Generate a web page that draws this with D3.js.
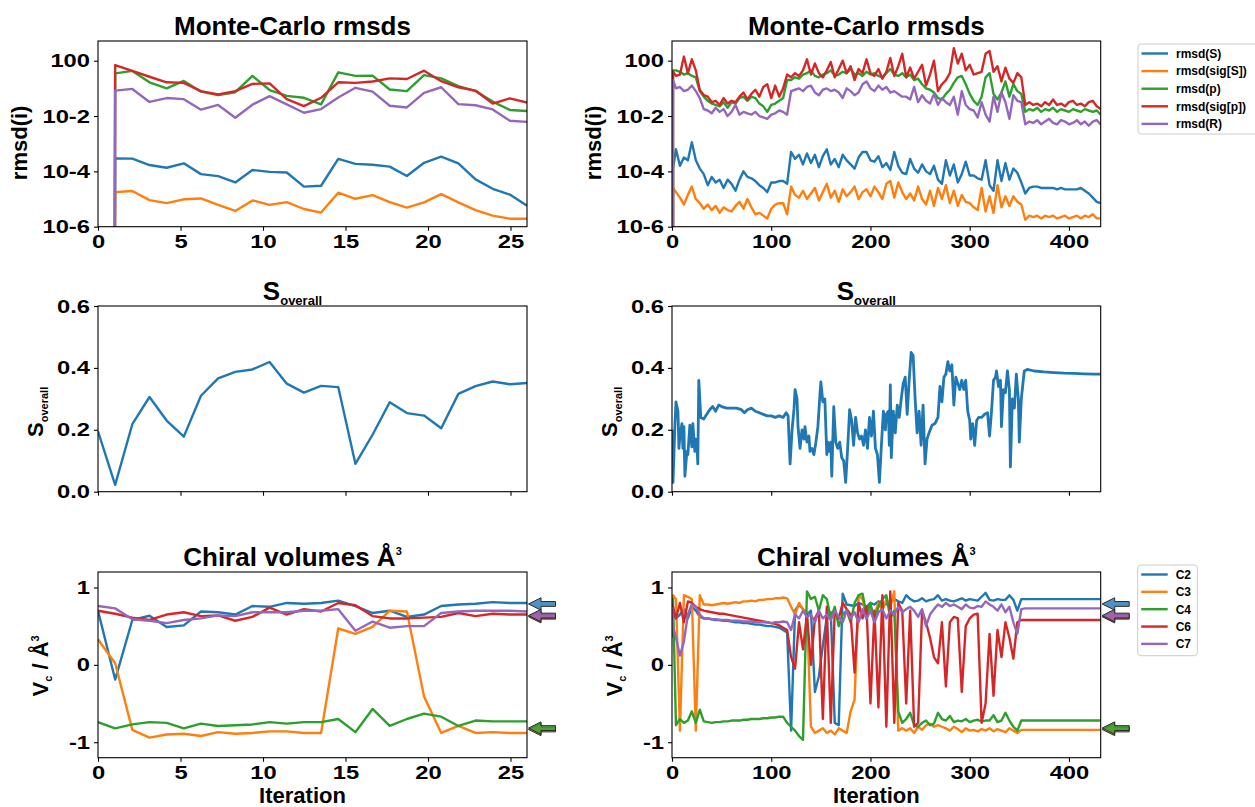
<!DOCTYPE html>
<html>
<head>
<meta charset="utf-8">
<script src="https://cdn.jsdelivr.net/npm/d3@7"></script>
<style>
  body { margin: 0; background: #fff; }
  svg { display: block; font-family: "Liberation Sans", Arial, sans-serif; font-weight: bold; }
</style>
</head>
<body>
<svg id="fig" width="1255" height="807"></svg>
<script>
// ---------------------------------------------------------------------------
// Series metadata
// ---------------------------------------------------------------------------
const rmsdNames = ["rmsd(S)", "rmsd(sig[S])", "rmsd(p)", "rmsd(sig[p])", "rmsd(R)"];
const chiralNames = ["C2", "C3", "C4", "C6", "C7"];
const palette = ["#1f77b4", "#ff7f0e", "#2ca02c", "#d62728", "#9467bd"];

// Target chiral volumes (arrows on the right-hand spine), order C2, C3, C4, C6, C7
const chiralTargets = [0.787, -0.835, -0.817, 0.622, 0.637];

// Axis ticks
const rmsdTickValues = [1, 1e-2, 1e-4, 1e-6];
const rmsdTickLabels = ["100", "10-2", "10-4", "10-6"];
const sTickValues = [0, 0.2, 0.4, 0.6];
const sTickLabels = ["0.0", "0.2", "0.4", "0.6"];
const vTickValues = [-1, 0, 1];
const vTickLabels = ["-1", "0", "1"];
const shortTicks = [0, 5, 10, 15, 20, 25];
const longTicks = [0, 100, 200, 300, 400];

// ---------------------------------------------------------------------------
// Short run (26 iterations)
// ---------------------------------------------------------------------------
const iterShort = [0, 1.04, 2.08, 3.12, 4.16, 5.2, 6.24, 7.28, 8.32, 9.36, 10.4, 11.44, 12.48,
  13.52, 14.56, 15.6, 16.64, 17.68, 18.72, 19.76, 20.8, 21.84, 22.88, 23.92, 24.96, 26];

// log10 of the rmsds; null = rmsd was exactly 0 at the first iteration
const rmsdS_short = [null, -3.53, -3.54, -3.77, -3.87, -3.71, -4.10, -4.17, -4.40, -3.95, -4.02, -4.04, -4.55,
  -4.52, -3.55, -3.73, -3.76, -3.83, -4.17, -3.69, -3.47, -3.71, -4.29, -4.63, -4.84, -5.24];
const rmsdSigS_short = [null, -4.75, -4.71, -5.04, -5.15, -5.01, -4.98, -5.21, -5.43, -5.05, -5.21, -5.11, -5.36,
  -5.49, -4.77, -4.99, -4.86, -5.11, -5.31, -5.12, -4.82, -5.12, -5.40, -5.60, -5.71, -5.71];
const rmsdP_short = [null, -0.46, -0.37, -0.78, -1.00, -0.73, -1.12, -1.24, -1.14, -0.55, -1.06, -1.27, -1.34,
  -1.58, -0.42, -0.55, -0.54, -1.04, -1.10, -0.52, -0.64, -0.92, -1.10, -1.48, -1.78, -1.82];
const rmsdSigP_short = [null, -0.16, -0.37, -0.58, -0.78, -0.80, -1.10, -1.22, -1.10, -0.84, -0.82, -1.39, -1.64,
  -1.34, -0.78, -0.80, -0.75, -0.64, -0.66, -0.36, -0.74, -0.96, -1.08, -1.55, -1.36, -1.51];
const rmsdR_short = [null, -1.08, -1.02, -1.49, -1.35, -1.39, -1.77, -1.60, -2.06, -1.59, -1.28, -1.58, -1.88,
  -1.75, -1.33, -0.98, -1.12, -1.63, -1.69, -1.16, -0.96, -1.57, -1.61, -1.76, -2.17, -2.21];

const sOverall_short = [0.195, 0.022, 0.218, 0.306, 0.23, 0.178, 0.31, 0.366, 0.387, 0.395, 0.419, 0.349, 0.32,
  0.342, 0.338, 0.09, 0.184, 0.289, 0.254, 0.246, 0.205, 0.316, 0.341, 0.356, 0.347, 0.351];

const vC2_short = [0.70, -0.19, 0.58, 0.635, 0.49, 0.51, 0.69, 0.68, 0.65, 0.76, 0.75, 0.80, 0.79,
  0.80, 0.83, 0.76, 0.67, 0.70, 0.62, 0.65, 0.76, 0.78, 0.79, 0.81, 0.80, 0.80];
const vC3_short = [0.33, 0.02, -0.84, -0.94, -0.90, -0.89, -0.92, -0.87, -0.89, -0.88, -0.86, -0.86, -0.88,
  -0.88, 0.47, 0.40, 0.49, 0.70, 0.69, -0.41, -0.88, -0.79, -0.88, -0.87, -0.88, -0.88];
const vC4_short = [-0.74, -0.82, -0.77, -0.74, -0.75, -0.82, -0.76, -0.79, -0.78, -0.77, -0.74, -0.76, -0.74,
  -0.74, -0.70, -0.87, -0.57, -0.79, -0.70, -0.63, -0.67, -0.79, -0.72, -0.73, -0.73, -0.73];
const vC6_short = [0.70, 0.66, 0.61, 0.58, 0.65, 0.68, 0.63, 0.64, 0.57, 0.62, 0.74, 0.65, 0.72,
  0.69, 0.80, 0.77, 0.63, 0.60, 0.60, 0.61, 0.62, 0.67, 0.63, 0.66, 0.65, 0.65];
const vC7_short = [0.76, 0.73, 0.59, 0.57, 0.54, 0.58, 0.60, 0.64, 0.63, 0.68, 0.68, 0.68, 0.70,
  0.70, 0.72, 0.44, 0.56, 0.48, 0.50, 0.50, 0.67, 0.69, 0.70, 0.70, 0.70, 0.69];

// ---------------------------------------------------------------------------
// Long run (432 iterations, sampled)
// ---------------------------------------------------------------------------
const iterLong = [0, 1, 4, 8, 12, 16, 20, 24, 28, 32, 36, 40, 44, 48, 52, 56, 60, 64, 68, 72, 76, 80, 84, 88,
  92, 96, 100, 104, 108, 112, 116, 120, 124, 128, 132, 136, 140, 144, 148, 152, 156, 160, 164, 168, 172, 176,
  180, 184, 188, 192, 196, 200, 204, 208, 212, 216, 220, 224, 228, 232, 236, 240, 244, 248, 252, 256, 260,
  264, 268, 272, 276, 280, 284, 288, 292, 296, 300, 304, 308, 312, 316, 320, 324, 328, 332, 336, 340, 344,
  348, 352, 356, 360, 364, 368, 372, 376, 380, 384, 388, 392, 396, 400, 404, 408, 412, 416, 420, 424, 428, 432];

const rmsdS_long = [null, -3.90, -3.20, -3.80, -3.50, -3.60, -2.95, -3.60, -3.90, -4.10,
  -4.50, -4.20, -4.40, -4.30, -4.60, -4.30, -4.45, -4.70, -4.30, -4.00,
  -4.20, -4.25, -4.35, -4.50, -4.60, -4.75, -4.40, -4.40, -4.35, -4.35,
  -4.45, -3.30, -3.55, -3.40, -3.75, -3.35, -3.70, -3.40, -3.85, -3.45,
  -3.20, -3.75, -3.55, -3.85, -3.40, -3.60, -3.75, -3.90, -3.50, -3.30,
  -3.30, -3.60, -3.65, -3.45, -3.85, -3.70, -3.95, -3.30, -3.80, -4.05,
  -4.10, -3.55, -3.90, -4.05, -3.75, -4.00, -4.10, -3.80, -4.30, -4.45,
  -3.60, -4.15, -3.75, -4.40, -4.10, -3.65, -4.15, -4.15, -4.25, -4.30,
  -3.60, -4.50, -4.70, -3.60, -4.35, -3.70, -4.30, -3.90, -4.05, -4.40,
  -4.80, -4.60, -4.55, -4.55, -4.60, -4.60, -4.60, -4.60, -4.65, -4.60,
  -4.65, -4.65, -4.65, -4.65, -4.60, -4.70, -4.80, -4.95, -5.10, -5.15];
const rmsdSigS_long = [null, -4.60, -4.75, -4.95, -5.20, -4.85, -4.55, -5.00, -5.15, -5.35,
  -5.20, -5.40, -5.25, -5.50, -5.30, -5.40, -5.45, -5.25, -5.10, -5.35,
  -5.00, -5.30, -5.55, -5.50, -5.60, -5.70, -5.35, -5.20, -5.15, -5.15,
  -5.55, -4.55, -4.85, -4.95, -4.70, -5.00, -4.80, -4.60, -5.05, -4.75,
  -4.45, -4.95, -4.70, -5.10, -4.65, -4.90, -4.75, -4.55, -5.00, -4.75,
  -4.65, -4.90, -4.55, -4.75, -5.00, -4.45, -4.35, -4.95, -4.40, -4.75,
  -5.00, -4.80, -5.05, -4.55, -5.00, -5.20, -4.70, -5.25, -4.60, -5.00,
  -4.50, -5.15, -4.70, -5.25, -4.85, -5.10, -5.15, -5.30, -5.40, -4.60,
  -5.45, -4.90, -5.50, -4.50, -5.30, -4.90, -5.25, -4.90, -5.10, -5.20,
  -5.75, -5.60, -5.65, -5.60, -5.70, -5.60, -5.65, -5.60, -5.70, -5.65,
  -5.60, -5.70, -5.65, -5.60, -5.70, -5.60, -5.65, -5.55, -5.70, -5.70];
const rmsdP_long = [null, -0.35, -0.35, -0.40, -0.50, -0.45, -0.55, -0.60, -1.10, -1.30,
  -1.45, -1.55, -1.60, -1.65, -1.50, -1.70, -1.50, -1.55, -1.35, -1.30,
  -1.45, -1.30, -1.35, -1.55, -1.65, -1.85, -1.60, -1.55, -1.45, -1.35,
  -0.70, -0.70, -0.60, -0.65, -0.50, -0.45, -0.35, -0.55, -0.60, -0.50,
  -0.45, -0.35, -0.55, -0.50, -0.40, -0.45, -0.30, -0.50, -0.45, -0.55,
  -0.40, -0.50, -0.45, -0.55, -0.60, -0.45, -0.30, -0.50, -0.55, -0.45,
  -0.60, -0.50, -0.70, -0.65, -0.85, -1.00, -1.05, -1.15, -1.35, -1.40,
  -1.20, -1.05, -0.80, -0.60, -0.55, -0.85, -1.20, -1.45, -1.60, -1.30,
  -0.60, -0.45, -1.20, -1.40, -1.15, -0.75, -1.30, -0.85, -1.10, -1.20,
  -1.85, -1.75, -1.80, -1.70, -1.85, -1.75, -1.80, -1.70, -1.85, -1.75,
  -1.80, -1.85, -1.75, -1.80, -1.85, -1.75, -1.80, -1.85, -1.80, -1.95];
const rmsdSigP_long = [null, -0.40, -0.55, -0.50, 0.15, -0.45, 0.05, -0.35, -1.06, -1.24,
  -1.30, -1.50, -1.45, -1.60, -1.35, -1.55, -1.45, -1.50, -1.30, -1.15,
  -1.40, -1.20, -1.05, -1.30, -0.95, -0.85, -1.35, -0.90, -1.30, -1.00,
  -0.50, -0.60, -0.45, -0.55, -0.35, 0.05, -0.50, -0.10, -0.45, -0.60,
  -0.35, -0.05, -0.60, -0.30, 0.00, -0.45, -0.20, -0.70, -0.30, -0.45,
  0.05, -0.45, -0.55, -0.30, -0.65, -0.40, 0.10, -0.55, -0.20, 0.25,
  -0.60, -0.25, -0.65, -0.40, -0.15, -0.90, -0.50, 0.00, -1.10, -0.85,
  -0.70, -0.45, 0.45, -0.10, 0.25, -0.35, -0.15, -0.50, -0.45, -0.40,
  0.25, 0.35, -0.40, -0.20, -0.75, -0.25, -0.65, -0.80, -0.45, -0.60,
  -1.60, -1.50, -1.60, -1.55, -1.65, -1.50, -1.60, -1.40, -1.60, -1.55,
  -1.65, -1.50, -1.45, -1.60, -1.55, -1.65, -1.50, -1.45, -1.65, -1.75];
const rmsdR_long = [null, -0.70, -1.00, -0.95, -1.10, -1.05, -0.90, -1.10, -1.35, -1.75,
  -1.80, -1.90, -1.70, -1.85, -1.75, -2.00, -1.85, -1.60, -1.95, -1.85,
  -1.90, -1.95, -1.85, -2.00, -2.05, -2.10, -1.95, -1.90, -1.80, -1.85,
  -1.95, -1.10, -1.05, -1.00, -1.10, -0.95, -0.90, -1.15, -1.25, -1.05,
  -1.00, -1.10, -1.05, -1.15, -1.35, -1.00, -1.10, -1.25, -1.15, -0.85,
  -0.75, -1.00, -1.10, -0.90, -1.05, -0.95, -1.15, -1.10, -1.20, -1.30,
  -1.30, -1.40, -0.95, -1.50, -1.25, -1.45, -1.55, -1.20, -1.60, -1.35,
  -1.50, -1.60, -1.30, -1.95, -1.10, -1.60, -1.75, -1.80, -2.05, -1.50,
  -1.95, -2.20, -1.30, -1.85, -1.15, -1.50, -2.10, -1.25, -1.45, -1.50,
  -2.30, -2.20, -2.25, -2.15, -2.30, -2.20, -2.10, -2.25, -2.30, -2.15,
  -2.20, -2.30, -2.25, -2.15, -2.30, -2.20, -2.35, -2.20, -2.15, -2.30];

const sIterLong = [0, 1, 3, 4, 6, 7, 8, 10, 11, 12, 13, 15, 16, 18, 20, 21, 23, 24, 25, 26, 27, 29, 32, 35,
  38, 41, 44, 47, 50, 55, 60, 65, 70, 73, 76, 80, 84, 88, 92, 96, 100, 104, 108, 112, 115, 117, 119, 121,
  123, 124, 126, 127, 129, 131, 133, 134, 136, 138, 139, 141, 143, 145, 147, 149, 150, 152, 154, 156, 157,
  158, 160, 161, 163, 165, 167, 169, 171, 173, 175, 177, 179, 181, 183, 185, 187, 189, 191, 193, 195, 197,
  199, 201, 203, 205, 207, 209, 211, 213, 215, 216, 218, 219, 220, 221, 223, 225, 227, 229, 231, 233, 235,
  237, 239, 241, 243, 245, 247, 249, 251, 253, 255, 257, 259, 262, 265, 268, 270, 272, 274, 276, 278, 280,
  282, 284, 286, 288, 290, 292, 294, 296, 298, 300, 301, 303, 305, 307, 309, 312, 315, 318, 320, 322, 324,
  326, 327, 329, 331, 332, 334, 336, 338, 340, 341, 343, 345, 347, 349, 350, 352, 355, 358, 365, 375, 385,
  395, 405, 415, 425, 432];
const sOverall_long = [0.20, 0.03, 0.22, 0.29, 0.26, 0.14, 0.18, 0.22, 0.14, 0.21, 0.05, 0.13, 0.12, 0.215,
  0.145, 0.22, 0.13, 0.17, 0.16, 0.09, 0.36, 0.24, 0.235, 0.25, 0.265, 0.275, 0.26, 0.28, 0.275, 0.27,
  0.27, 0.27, 0.265, 0.255, 0.265, 0.27, 0.26, 0.255, 0.25, 0.245, 0.245, 0.24, 0.245, 0.24, 0.255, 0.245,
  0.09, 0.20, 0.27, 0.33, 0.30, 0.21, 0.14, 0.20, 0.17, 0.21, 0.16, 0.18, 0.13, 0.14, 0.12, 0.16, 0.21,
  0.31, 0.355, 0.29, 0.30, 0.12, 0.16, 0.13, 0.16, 0.05, 0.275, 0.16, 0.14, 0.16, 0.11, 0.10, 0.03, 0.14,
  0.265, 0.23, 0.15, 0.24, 0.19, 0.17, 0.18, 0.15, 0.20, 0.14, 0.24, 0.18, 0.26, 0.14, 0.12, 0.03, 0.15,
  0.26, 0.20, 0.25, 0.26, 0.15, 0.345, 0.11, 0.26, 0.19, 0.28, 0.24, 0.30, 0.35, 0.37, 0.25, 0.36, 0.45,
  0.44, 0.30, 0.19, 0.26, 0.15, 0.28, 0.09, 0.17, 0.19, 0.215, 0.22, 0.24, 0.34, 0.29, 0.37, 0.38, 0.42,
  0.39, 0.41, 0.28, 0.37, 0.35, 0.33, 0.36, 0.33, 0.36, 0.26, 0.23, 0.17, 0.22, 0.15, 0.23, 0.24, 0.24,
  0.25, 0.255, 0.18, 0.26, 0.36, 0.37, 0.39, 0.34, 0.36, 0.21, 0.33, 0.32, 0.39, 0.33, 0.08, 0.30, 0.27,
  0.38, 0.30, 0.16, 0.30, 0.39, 0.395, 0.39, 0.387, 0.385, 0.383, 0.382, 0.381, 0.38, 0.38];

const vC2_long = [0.72, 0.70, 0.60, 0.65, 0.72, 0.60, 0.75, 0.70, 0.62, 0.60,
  0.60, 0.59, 0.58, 0.58, 0.57, 0.57, 0.56, 0.55, 0.55, 0.54,
  0.54, 0.53, 0.52, 0.52, 0.51, 0.50, 0.50, 0.49, 0.48, 0.45,
  0.42, -0.85, 0.70, 0.78, 0.72, 0.65, 0.70, -0.35, -0.15, 0.25,
  0.62, 0.68, -0.75, -0.78, 0.92, 0.78, 0.77, 0.76, 0.80, 0.78,
  0.75, 0.80, 0.78, 0.82, 0.80, 0.78, 0.80, 0.85, 0.82, 0.80,
  0.90, 0.85, 0.82, 0.83, 0.86, 0.82, 0.84, 0.85, 0.90, 0.83,
  0.85, 0.83, 0.82, 0.84, 0.86, 0.83, 0.85, 0.84, 0.83, 0.88,
  0.93, 0.84, 0.83, 0.85, 0.84, 0.84, 0.90, 0.84, 0.70, 0.85,
  0.85, 0.85, 0.85, 0.85, 0.85, 0.85, 0.85, 0.85, 0.85, 0.85,
  0.85, 0.85, 0.85, 0.85, 0.85, 0.85, 0.85, 0.85, 0.85, 0.85];
const vC3_long = [0.35, 0.90, 0.85, -0.85, 0.90, 0.88, 0.85, -0.85, 0.90, 0.78,
  0.78, 0.77, 0.78, 0.79, 0.80, 0.79, 0.80, 0.81, 0.80, 0.82,
  0.82, 0.83, 0.82, 0.84, 0.84, 0.85, 0.85, 0.86, 0.86, 0.87,
  0.86, 0.75, 0.65, 0.80, 0.72, 0.68, -0.80, -0.88, -0.85, -0.82,
  -0.88, -0.85, -0.90, -0.82, -0.85, -0.88, -0.60, -0.45, 0.90, 0.85,
  0.60, 0.75, 0.65, 0.80, 0.70, 0.85, 0.75, 0.95, -0.85, -0.82,
  -0.85, -0.82, -0.88, -0.80, -0.84, -0.78, -0.76, -0.80, -0.78, -0.80,
  -0.82, -0.85, -0.80, -0.83, -0.87, -0.82, -0.85, -0.84, -0.86, -0.83,
  -0.85, -0.82, -0.86, -0.83, -0.85, -0.87, -0.82, -0.85, -0.88, -0.84,
  -0.84, -0.84, -0.84, -0.84, -0.84, -0.84, -0.84, -0.84, -0.84, -0.84,
  -0.84, -0.84, -0.84, -0.84, -0.84, -0.84, -0.84, -0.84, -0.84, -0.84];
const vC4_long = [0.35, 0.85, -0.78, -0.70, -0.75, -0.72, -0.60, -0.75, -0.58, -0.73,
  -0.74, -0.75, -0.74, -0.74, -0.73, -0.73, -0.72, -0.72, -0.72, -0.71,
  -0.71, -0.70, -0.70, -0.70, -0.69, -0.69, -0.68, -0.68, -0.67, -0.67,
  -0.75, -0.80, -0.85, -0.92, -0.97, 0.95, 0.85, 0.88, 0.70, 0.90,
  0.85, 0.60, 0.75, 0.50, 0.65, 0.70, 0.55, 0.80, 0.90, 0.92,
  0.65, 0.80, 0.55, 0.75, 0.85, 0.90, 0.60, 0.70, -0.60, -0.75,
  -0.70, -0.62, -0.78, -0.80, -0.75, -0.72, -0.78, -0.76, -0.62, -0.70,
  -0.72, -0.66, -0.74, -0.72, -0.73, -0.70, -0.74, -0.72, -0.71, -0.73,
  -0.72, -0.72, -0.65, -0.74, -0.72, -0.62, -0.72, -0.80, -0.85, -0.72,
  -0.72, -0.72, -0.72, -0.72, -0.72, -0.72, -0.72, -0.72, -0.72, -0.72,
  -0.72, -0.72, -0.72, -0.72, -0.72, -0.72, -0.72, -0.72, -0.72, -0.72];
const vC6_long = [0.78, 0.75, 0.60, 0.80, 0.55, 0.82, 0.80, 0.75, 0.72, 0.70,
  0.69, 0.68, 0.67, 0.66, 0.66, 0.65, 0.64, 0.63, 0.62, 0.61,
  0.60, 0.59, 0.58, 0.57, 0.56, 0.55, 0.54, 0.53, 0.51, 0.48,
  0.45, 0.10, -0.05, 0.55, 0.20, 0.65, 0.00, 0.60, 0.70, -0.70,
  0.75, -0.75, 0.70, 0.60, 0.80, 0.72, 0.65, -0.10, 0.80, 0.60,
  0.75, -0.50, 0.70, -0.55, 0.90, -0.80, 0.95, -0.75, 0.80, 0.70,
  -0.50, 0.70, -0.80, -0.75, 0.70, 0.55, 0.35, 0.10, 0.02, 0.55,
  -0.28, 0.55, 0.62, 0.60, -0.35, 0.50, 0.60, 0.65, 0.66, -0.75,
  -0.50, 0.40, -0.40, 0.45, 0.10, 0.55, 0.35, 0.08, 0.55, 0.58,
  0.58, 0.58, 0.58, 0.58, 0.58, 0.58, 0.58, 0.58, 0.58, 0.58,
  0.58, 0.58, 0.58, 0.58, 0.58, 0.58, 0.58, 0.58, 0.58, 0.58];
const vC7_long = [0.75, 0.50, 0.35, 0.12, 0.30, 0.65, 0.78, 0.75, 0.65, 0.60,
  0.60, 0.59, 0.59, 0.58, 0.58, 0.58, 0.57, 0.57, 0.57, 0.56,
  0.56, 0.56, 0.55, 0.55, 0.55, 0.55, 0.54, 0.55, 0.55, 0.56,
  0.55, 0.45, 0.65, 0.60, 0.70, 0.62, 0.65, 0.55, 0.70, 0.60,
  0.65, 0.58, 0.70, 0.62, 0.55, 0.70, 0.60, 0.68, 0.55, 0.72,
  0.60, 0.70, 0.55, 0.68, 0.72, 0.60, 0.70, 0.65, 0.75, 0.68,
  0.72, 0.75, 0.70, 0.62, 0.72, 0.50, 0.65, 0.72, 0.78, 0.75,
  0.80, 0.76, 0.78, 0.75, 0.72, 0.78, 0.74, 0.73, 0.76, 0.75,
  0.82, 0.78, 0.75, 0.70, 0.78, 0.68, 0.75, 0.55, 0.40, 0.72,
  0.73, 0.73, 0.73, 0.73, 0.73, 0.73, 0.73, 0.73, 0.73, 0.73,
  0.73, 0.73, 0.73, 0.73, 0.73, 0.73, 0.73, 0.73, 0.73, 0.73];

// ---------------------------------------------------------------------------
// Layout
// ---------------------------------------------------------------------------
const fig = d3.select("#fig");
const cols = [{ x0: 98, x1: 527 }, { x0: 672, x1: 1100.7 }];
const rows = [{ y0: 41, y1: 226.7 }, { y0: 306, y1: 491.7 }, { y0: 572, y1: 757.7 }];
const TICK_FS = 19, TICK_STRETCH = 1.25, LABEL_FS = 22, TITLE_FS = 26, LINE_W = 2.4;
let clipCount = 0;

function panel(col, row, xDomain, xTicks, showXLabels, y, yTicks, yLabels) {
  const g = fig.append("g");
  const x = d3.scaleLinear().domain(xDomain).range([col.x0, col.x1]);
  y.range([row.y1, row.y0]);
  const id = "clip" + (clipCount++);
  g.append("clipPath").attr("id", id).append("rect")
    .attr("x", col.x0).attr("y", row.y0)
    .attr("width", col.x1 - col.x0).attr("height", row.y1 - row.y0);
  const plot = g.append("g").attr("clip-path", `url(#${id})`);

  const xa = g.append("g").attr("transform", `translate(0,${row.y1})`)
    .call(d3.axisBottom(x).tickValues(xTicks).tickSize(4).tickPadding(4)
      .tickFormat(d => showXLabels ? String(d) : ""));
  const ya = g.append("g").attr("transform", `translate(${col.x0},0)`)
    .call(d3.axisLeft(y).tickValues(yTicks).tickSize(4).tickPadding(4)
      .tickFormat((d, i) => yLabels[i]));
  [xa, ya].forEach(a => {
    a.select(".domain").remove();
    a.selectAll(".tick line").attr("stroke", "#000").attr("stroke-width", 1.1);
    a.selectAll(".tick text").attr("fill", "#000").style("font-size", TICK_FS + "px")
      .style("font-weight", "bold").style("font-family", "'Liberation Sans', Arial, sans-serif");
  });
  // the tick font is set wide: stretch each label about its anchor
  xa.selectAll(".tick text").attr("transform", `scale(${TICK_STRETCH},1)`);
  ya.selectAll(".tick text").attr("x", 0)
    .attr("transform", `translate(-8,0) scale(${TICK_STRETCH},1)`);

  g.append("rect")
    .attr("x", col.x0).attr("y", row.y0)
    .attr("width", col.x1 - col.x0).attr("height", row.y1 - row.y0)
    .attr("fill", "none").attr("stroke", "#000").attr("stroke-width", 1.1);
  return { g, x, y, plot, col, row };
}

function drawLine(p, xs, ys, color, mapY, width) {
  const pts = xs.map((xv, i) => [xv, ys[i]]);
  const line = d3.line().x(d => p.x(d[0])).y(d => p.y(mapY ? mapY(d[1]) : d[1]));
  p.plot.append("path").datum(pts)
    .attr("d", line)
    .attr("fill", "none").attr("stroke", color)
    .attr("stroke-width", width || LINE_W).attr("stroke-linejoin", "round");
}

// log10 exponent -> rmsd value; zero values sit far below the axis like a clipped log plot
const fromLog = e => (e === null ? 1e-300 : Math.pow(10, e));

function addParts(t, parts) {
  parts.forEach(pt => {
    const s = t.append("tspan").text(pt.text);
    if (pt.size) s.style("font-size", pt.size + "px");
    if (pt.dy) s.attr("dy", pt.dy);
  });
}

function title(p, parts) {
  const cx = (p.col.x0 + p.col.x1) / 2 - 20;
  const t = fig.append("text").attr("x", cx).attr("y", p.row.y0 - 6)
    .attr("text-anchor", "middle").style("font-size", TITLE_FS + "px").attr("fill", "#000");
  addParts(t, parts);
}

function ylabel(p, parts, offset, shift) {
  const cy = (p.row.y0 + p.row.y1) / 2 + shift;
  const t = fig.append("text")
    .attr("transform", `translate(${p.col.x0 - offset},${cy}) rotate(-90)`)
    .attr("text-anchor", "middle").style("font-size", LABEL_FS + "px").attr("fill", "#000");
  addParts(t, parts);
}

function xlabel(p, text) {
  fig.append("text").attr("x", (p.col.x0 + p.col.x1) / 2 - 10).attr("y", p.row.y1 + 45)
    .attr("text-anchor", "middle").style("font-size", LABEL_FS + "px").attr("fill", "#000").text(text);
}

function legend(x0, y0, w, h, names, rowStep) {
  const g = fig.append("g");
  g.append("rect").attr("x", x0).attr("y", y0).attr("width", w).attr("height", h)
    .attr("rx", 3).attr("fill", "#fff").attr("fill-opacity", 0.8)
    .attr("stroke", "#cccccc").attr("stroke-width", 1);
  names.forEach((n, i) => {
    const yy = y0 + 9.5 + i * rowStep;
    g.append("line").attr("x1", x0 + 3.5).attr("x2", x0 + 30).attr("y1", yy).attr("y2", yy)
      .attr("stroke", palette[i]).attr("stroke-width", LINE_W);
    g.append("text").attr("x", x0 + 38).attr("y", yy).attr("dy", "0.36em")
      .style("font-size", "12px").attr("fill", "#000").text(n);
  });
}

function targetArrows(p) {
  const L = 27, hl = 12.5, hw = 6.2, sw = 2.4;
  const tipX = p.col.x1 + 1.5;
  chiralTargets.forEach((v, i) => {
    const yy = p.y(v);
    const pts = [[0, 0], [hl, -hw], [hl, -sw], [L, -sw], [L, sw], [hl, sw], [hl, hw]]
      .map(q => [tipX + q[0], yy + q[1]]);
    fig.append("polygon").attr("points", pts.map(q => q.join(",")).join(" "))
      .attr("fill", palette[i]).attr("fill-opacity", 0.8)
      .attr("stroke", "#2b2b2b").attr("stroke-width", 1).attr("stroke-linejoin", "miter");
  });
}

// ---------------------------------------------------------------------------
// Row 1: Monte-Carlo rmsds
// ---------------------------------------------------------------------------
const rmsdShort = [rmsdS_short, rmsdSigS_short, rmsdP_short, rmsdSigP_short, rmsdR_short];
const rmsdLong = [rmsdS_long, rmsdSigS_long, rmsdP_long, rmsdSigP_long, rmsdR_long];
const rmsdTop = Math.pow(10, 0.712);

const pA = panel(cols[0], rows[0], [0, 26], shortTicks, true,
  d3.scaleLog().domain([1e-6, rmsdTop]), rmsdTickValues, rmsdTickLabels);
rmsdShort.forEach((s, i) => drawLine(pA, iterShort, s, palette[i], fromLog));
const pB = panel(cols[1], rows[0], [0, 432], longTicks, true,
  d3.scaleLog().domain([1e-6, rmsdTop]), rmsdTickValues, rmsdTickLabels);
rmsdLong.forEach((s, i) => drawLine(pB, iterLong, s, palette[i], fromLog));
[pA, pB].forEach(p => {
  title(p, [{ text: "Monte-Carlo rmsds" }]);
  ylabel(p, [{ text: "rmsd(i)" }], 71, 9);
});
legend(1138, 44, 125, 90, rmsdNames, 17.6);

// ---------------------------------------------------------------------------
// Row 2: S_overall
// ---------------------------------------------------------------------------
const pC = panel(cols[0], rows[1], [0, 26], shortTicks, false,
  d3.scaleLinear().domain([0, 0.6]), sTickValues, sTickLabels);
drawLine(pC, iterShort, sOverall_short, palette[0]);
const pD = panel(cols[1], rows[1], [0, 432], longTicks, false,
  d3.scaleLinear().domain([0, 0.6]), sTickValues, sTickLabels);
drawLine(pD, sIterLong, sOverall_long, palette[0], null, 2.8);
[pC, pD].forEach(p => {
  title(p, [{ text: "S" }, { text: "overall", size: 13, dy: 5 }]);
  ylabel(p, [{ text: "S" }, { text: "overall", size: 11, dy: 5 }], 55, 13);
});

// ---------------------------------------------------------------------------
// Row 3: chiral volumes
// ---------------------------------------------------------------------------
const vShort = [vC2_short, vC3_short, vC4_short, vC6_short, vC7_short];
const vLong = [vC2_long, vC3_long, vC4_long, vC6_long, vC7_long];
const pE = panel(cols[0], rows[2], [0, 26], shortTicks, true,
  d3.scaleLinear().domain([-1.2, 1.2]), vTickValues, vTickLabels);
vShort.forEach((s, i) => drawLine(pE, iterShort, s, palette[i]));
const pF = panel(cols[1], rows[2], [0, 432], longTicks, true,
  d3.scaleLinear().domain([-1.2, 1.2]), vTickValues, vTickLabels);
vLong.forEach((s, i) => drawLine(pF, iterLong, s, palette[i]));
[pE, pF].forEach(p => {
  title(p, [{ text: "Chiral volumes Å" }, { text: "3", size: 11, dy: -11 }]);
  ylabel(p, [{ text: "V" }, { text: "c", size: 11, dy: 4 }, { text: " / Å", dy: -4 }, { text: "3", size: 11, dy: -9 }], 50, 1);
  xlabel(p, "Iteration");
  targetArrows(p);
});
legend(1137.7, 565, 59.6, 90.7, chiralNames, 17.35);
</script>
</body>
</html>
